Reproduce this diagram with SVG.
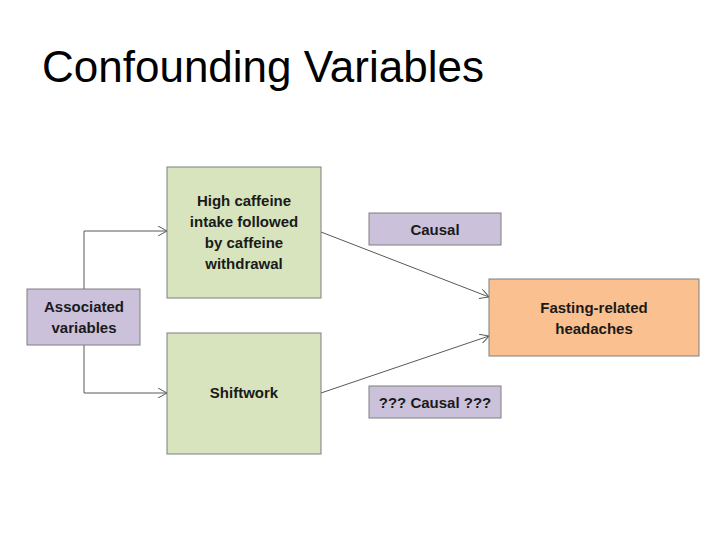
<svg xmlns="http://www.w3.org/2000/svg" width="720" height="540" viewBox="0 0 720 540">
<style>
.t{font-family:"Liberation Sans",Arial,sans-serif;font-weight:bold;font-size:15px;fill:#1a1a1a;text-anchor:middle}
.b{stroke:#7f7f7f;stroke-width:1}
.c{stroke:#595959;stroke-width:1;fill:none}
</style>
<defs><marker id="a" markerWidth="10" markerHeight="10" refX="9" refY="5" orient="auto" markerUnits="userSpaceOnUse"><path d="M0,0 L9,5 L0,10" fill="none" stroke="#595959"/></marker></defs>
<rect width="720" height="540" fill="#fff"/>
<text x="42" y="82" style="font-family:'Liberation Sans',Arial,sans-serif;font-size:44px;fill:#000">Confounding Variables</text>
<g id="connectors">
<path class="c" d="M84,289 V231 H167" marker-end="url(#a)"/>
<path class="c" d="M84,345 V393 H167" marker-end="url(#a)"/>
<path class="c" d="M321,232 L489,297" marker-end="url(#a)"/>
<path class="c" d="M321,393 L489,336" marker-end="url(#a)"/>
</g>
<g id="assoc"><rect class="b" x="27" y="289" width="113" height="56" fill="#ccc1da"/><text class="t" x="84" y="312">Associated</text><text class="t" x="84" y="333">variables</text></g>
<g id="caffeine"><rect class="b" x="167" y="167" width="154" height="131" fill="#d7e4bd"/><text class="t" x="244" y="206">High caffeine</text><text class="t" x="244" y="227">intake followed</text><text class="t" x="244" y="248">by caffeine</text><text class="t" x="244" y="269">withdrawal</text></g>
<g id="shiftwork"><rect class="b" x="167" y="333" width="154" height="121" fill="#d7e4bd"/><text class="t" x="244" y="398">Shiftwork</text></g>
<g id="causal1"><rect class="b" x="369" y="213" width="132" height="32" fill="#ccc1da"/><text class="t" x="435" y="235">Causal</text></g>
<g id="causal2"><rect class="b" x="369" y="386" width="132" height="32" fill="#ccc1da"/><text class="t" x="435" y="408">??? Causal ???</text></g>
<g id="headaches"><rect class="b" x="489" y="279" width="210" height="77" fill="#fac090"/><text class="t" x="594" y="313">Fasting-related</text><text class="t" x="594" y="334">headaches</text></g>
</svg>
